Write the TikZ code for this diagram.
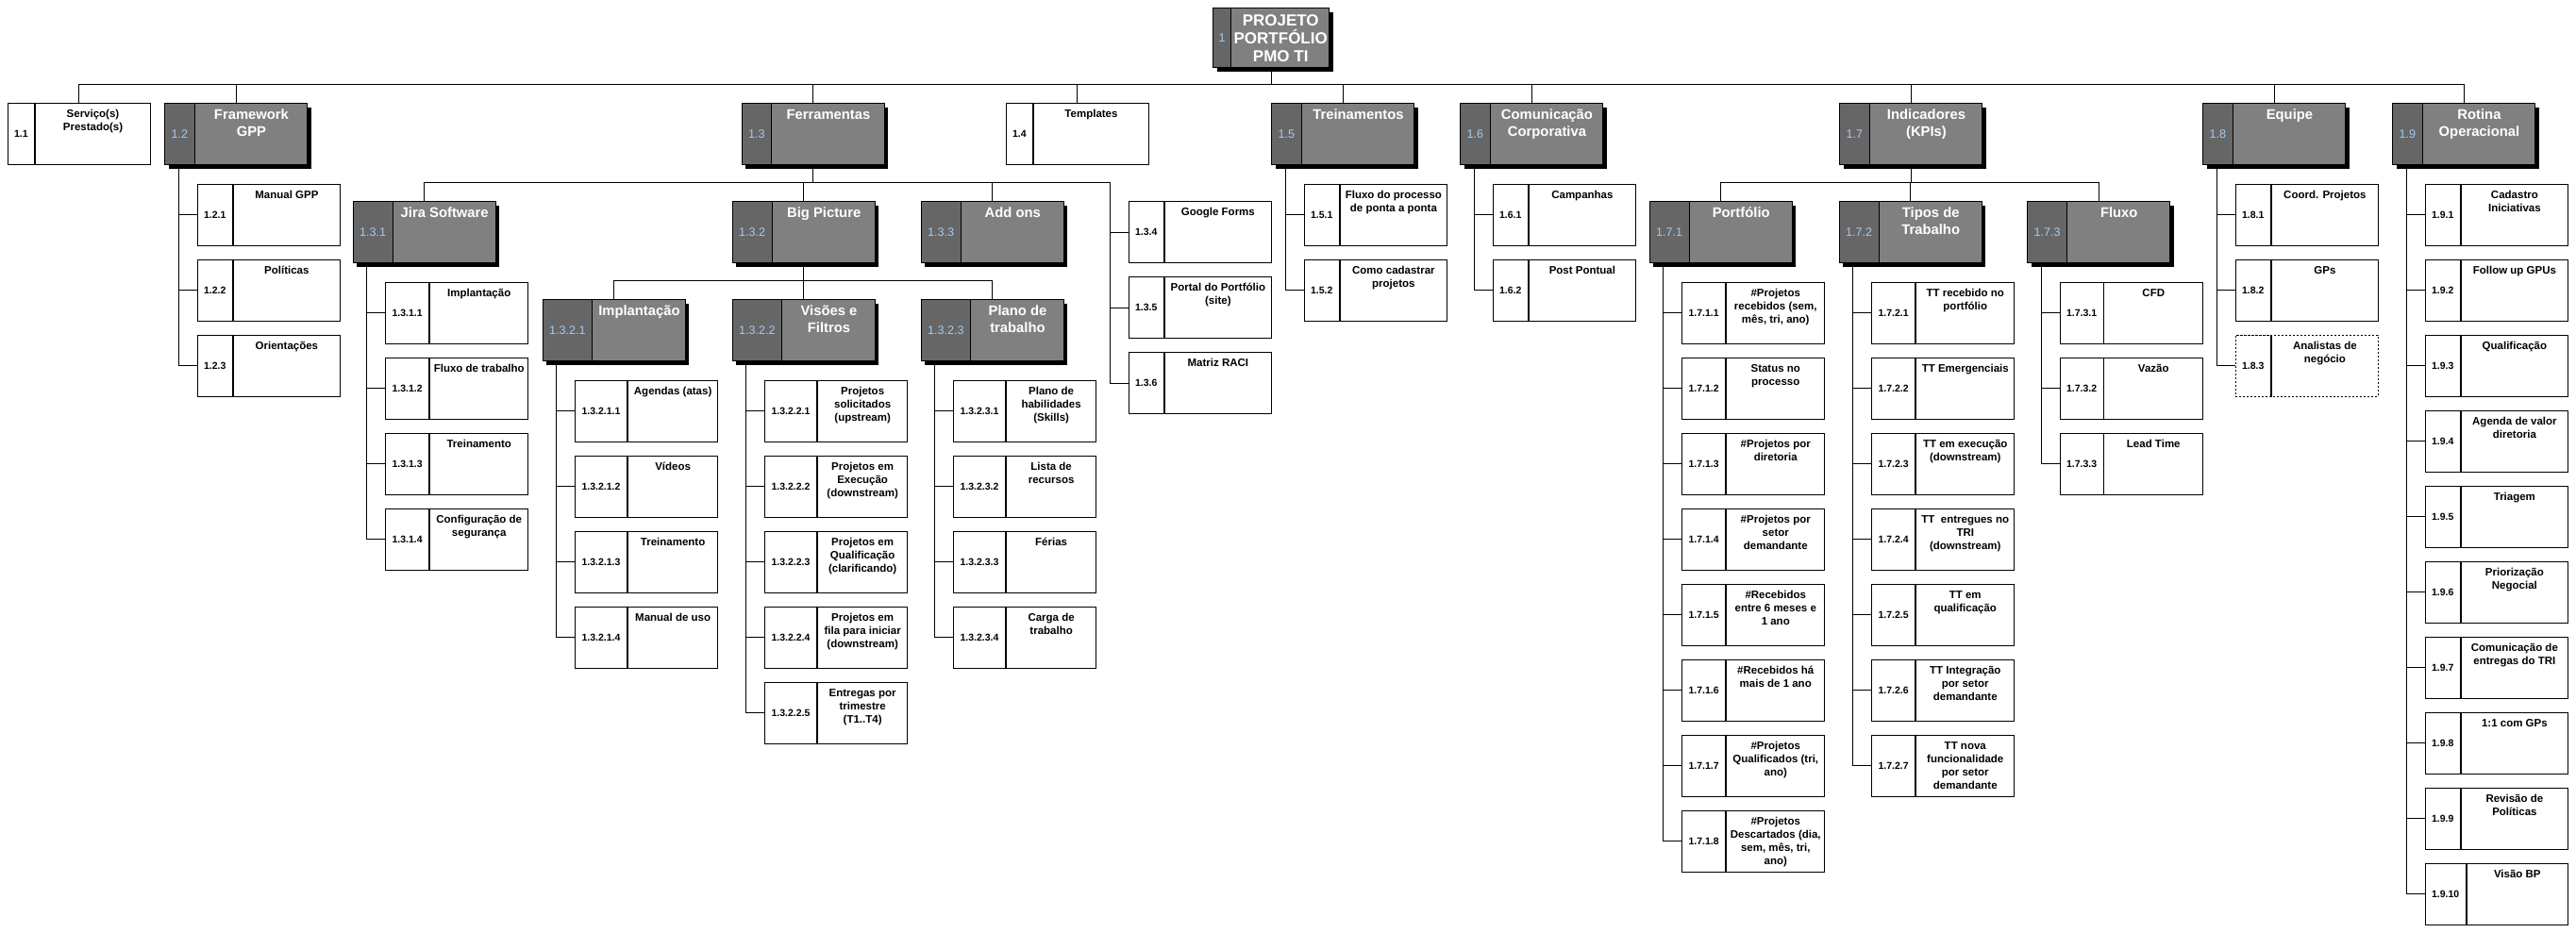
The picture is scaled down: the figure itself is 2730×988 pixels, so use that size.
\documentclass[tikz,border=0pt]{standalone}
\usepackage{fontspec}
\setmainfont{Liberation Sans}
\usetikzlibrary{calc,shadows}
\definecolor{boxgray}{HTML}{808080}
\definecolor{numgray}{HTML}{666666}
\definecolor{numblue}{HTML}{A6CAF0}
\tikzset{
	wbs/.style={draw, line width=1.2pt, minimum width=151pt, minimum height=65pt, inner sep=0pt, anchor=north west},
	darkwbs/.style={wbs, fill=boxgray, drop shadow={shadow xshift=4pt, shadow yshift=-4pt, opacity=1, fill=black}},
	leafnum/.style={draw, line width=1.2pt, minimum height=65pt, inner xsep=7pt, inner ysep=0pt, anchor=north west, font=\fontsize{10.5}{12}\bfseries},
	darknum/.style={leafnum, fill=numgray, text=numblue, font=\fontsize{12.6}{14}\selectfont},
	leaftext/.style={align=center, inner sep=0pt, anchor=north, font=\fontsize{11.5}{14}\bfseries},
	darktext/.style={leaftext, text=white, font=\fontsize{14.8}{17.7}\bfseries},
	link/.style={line width=1pt},
}
% dark box: name, position, number, title
\newcommand{\wbsdark}[4]{
	\node[darkwbs] (#1) at (#2) {};
	\node[darknum] (#1-n) at (#1.north west) {#3};
	\node[darktext] at ($(#1-n.north east)!.5!(#1.north east)+(0,3.8)$) {\rule{0pt}{13.5pt}#4};
}
% white box: style, name, position, number, label
\newcommand{\wbsleaf}[5][]{
	\node[wbs,#1] (#2) at (#3) {};
	\node[leafnum,#1] (#2-n) at (#2.north west) {#4};
	\draw[line width=1.2pt] (#2-n.north east) -- (#2-n.south east);
	\node[leaftext] at ($(#2-n.north east)!.5!(#2.north east)+(0,4.7)$) {\rule{0pt}{10.5pt}#5};
}
% leaf k under a parent: style, name, parent, k, number, label
\newcommand{\wbschild}[6][]{
	\wbsleaf[#1]{#2}{[shift={(34.5,{19.5+80*#4})}]#3.south west}{#5}{#6}
	\draw[link] ([xshift=15pt]#3.south west) |- (#2.west);
}

\begin{document}
\begin{tikzpicture}[x=1pt,y=-1pt]
			%%%%% START %%%%%
			\fill[white] (0,0) rectangle (2730,988);
			\useasboundingbox (0,0) rectangle (2730,988);
			
			\node[darkwbs, minimum width=123pt, minimum height=63pt] (root) at (1285,8) {};
			\node[darknum, minimum height=63pt, inner xsep=6pt] (root-n) at (root.north west) {1};
			\node[darktext, font=\fontsize{17}{19}\bfseries] at ($(root-n.north east)!.5!(root.north east)+(0,3.3)$) {\rule{0pt}{15.5pt}PROJETO\\PORTFÓLIO\\PMO TI};
			
			%% level 1
			\wbsleaf{n11}{7.5,109}{1.1}{Serviço(s)\\Prestado(s)}
			\wbsdark{n12}{174,109}{1.2}{Framework\\GPP}
			\wbsdark{n13}{785.5,109}{1.3}{Ferramentas}
			\wbsleaf{n14}{1065.5,109}{1.4}{Templates}
			\wbsdark{n15}{1347,109}{1.5}{Treinamentos}
			\wbsdark{n16}{1547,109}{1.6}{Comunicação\\Corporativa}
			\wbsdark{n17}{1949,109}{1.7}{Indicadores\\(KPIs)}
			\wbsdark{n18}{2334,109}{1.8}{Equipe}
			\wbsdark{n19}{2535,109}{1.9}{Rotina\\Operacional}
			\foreach \c in {n11,n12,n13,n14,n15,n16,n17,n18,n19}
				\draw[link] (root.south) |- ([shift={(0,-19.5)}]\c.north) -- (\c.north);
			
			%% 1.2
			\wbschild{n121}{n12}{0}{1.2.1}{Manual GPP}
			\wbschild{n122}{n12}{1}{1.2.2}{Políticas}
			\wbschild{n123}{n12}{2}{1.2.3}{Orientações}
			
			%% 1.3
			\wbsdark{n131}{373.5,213}{1.3.1}{Jira Software}
			\wbsdark{n132}{775.5,213}{1.3.2}{Big Picture}
			\wbsdark{n133}{975.5,213}{1.3.3}{Add ons}
			\foreach \c in {n131,n132,n133}
				\draw[link] (n13.south) |- ([shift={(0,-19.5)}]\c.north) -- (\c.north);
			\wbsleaf{n134}{1195.5,213}{1.3.4}{Google Forms}
			\wbsleaf{n135}{1195.5,293}{1.3.5}{Portal do Portfólio\\(site)}
			\wbsleaf{n136}{1195.5,373}{1.3.6}{Matriz RACI}
			\foreach \c in {n134,n135,n136}
				\draw[link] (n13.south) |- ([shift={(-19,-19.5)}]n134.north west) |- (\c.west);
			
			\wbschild{n1311}{n131}{0}{1.3.1.1}{Implantação}
			\wbschild{n1312}{n131}{1}{1.3.1.2}{Fluxo de trabalho}
			\wbschild{n1313}{n131}{2}{1.3.1.3}{Treinamento}
			\wbschild{n1314}{n131}{3}{1.3.1.4}{Configuração de\\segurança}
			
			\wbsdark{n1321}{574.5,317}{1.3.2.1}{Implantação}
			\wbsdark{n1322}{775.5,317}{1.3.2.2}{Visões e\\Filtros}
			\wbsdark{n1323}{975.5,317}{1.3.2.3}{Plano de\\trabalho}
			\foreach \c in {n1321,n1322,n1323}
				\draw[link] (n132.south) |- ([shift={(0,-19.5)}]\c.north) -- (\c.north);
			
			\wbschild{n13211}{n1321}{0}{1.3.2.1.1}{Agendas (atas)}
			\wbschild{n13212}{n1321}{1}{1.3.2.1.2}{Vídeos}
			\wbschild{n13213}{n1321}{2}{1.3.2.1.3}{Treinamento}
			\wbschild{n13214}{n1321}{3}{1.3.2.1.4}{Manual de uso}
			
			\wbschild{n13221}{n1322}{0}{1.3.2.2.1}{Projetos\\solicitados\\(upstream)}
			\wbschild{n13222}{n1322}{1}{1.3.2.2.2}{Projetos em\\Execução\\(downstream)}
			\wbschild{n13223}{n1322}{2}{1.3.2.2.3}{Projetos em\\Qualificação\\(clarificando)}
			\wbschild{n13224}{n1322}{3}{1.3.2.2.4}{Projetos em\\fila para iniciar\\(downstream)}
			\wbschild{n13225}{n1322}{4}{1.3.2.2.5}{Entregas por\\trimestre\\(T1..T4)}
			
			\wbschild{n13231}{n1323}{0}{1.3.2.3.1}{Plano de\\habilidades\\(Skills)}
			\wbschild{n13232}{n1323}{1}{1.3.2.3.2}{Lista de\\recursos}
			\wbschild{n13233}{n1323}{2}{1.3.2.3.3}{Férias}
			\wbschild{n13234}{n1323}{3}{1.3.2.3.4}{Carga de\\trabalho}
			
			%% 1.5 / 1.6
			\wbschild{n151}{n15}{0}{1.5.1}{Fluxo do processo\\de ponta a ponta}
			\wbschild{n152}{n15}{1}{1.5.2}{Como cadastrar\\projetos}
			\wbschild{n161}{n16}{0}{1.6.1}{Campanhas}
			\wbschild{n162}{n16}{1}{1.6.2}{Post Pontual}
			
			%% 1.7
			\wbsdark{n171}{1747.5,213}{1.7.1}{Portfólio}
			\wbsdark{n172}{1948.5,213}{1.7.2}{Tipos de\\Trabalho}
			\wbsdark{n173}{2148,213}{1.7.3}{Fluxo}
			\foreach \c in {n171,n172,n173}
				\draw[link] (n17.south) |- ([shift={(0,-19.5)}]\c.north) -- (\c.north);
			
			\wbschild{n1711}{n171}{0}{1.7.1.1}{\#Projetos\\recebidos (sem,\\mês, tri, ano)}
			\wbschild{n1712}{n171}{1}{1.7.1.2}{Status no\\processo}
			\wbschild{n1713}{n171}{2}{1.7.1.3}{\#Projetos por\\diretoria}
			\wbschild{n1714}{n171}{3}{1.7.1.4}{\#Projetos por\\setor\\demandante}
			\wbschild{n1715}{n171}{4}{1.7.1.5}{\#Recebidos\\entre 6 meses e\\1 ano}
			\wbschild{n1716}{n171}{5}{1.7.1.6}{\#Recebidos há\\mais de 1 ano}
			\wbschild{n1717}{n171}{6}{1.7.1.7}{\#Projetos\\Qualificados (tri,\\ano)}
			\wbschild{n1718}{n171}{7}{1.7.1.8}{\#Projetos\\Descartados (dia,\\sem, mês, tri,\\ano)}
			
			\wbschild{n1721}{n172}{0}{1.7.2.1}{TT recebido no\\portfólio}
			\wbschild{n1722}{n172}{1}{1.7.2.2}{TT Emergenciais}
			\wbschild{n1723}{n172}{2}{1.7.2.3}{TT em execução\\(downstream)}
			\wbschild{n1724}{n172}{3}{1.7.2.4}{TT\ \ entregues no\\TRI\\(downstream)}
			\wbschild{n1725}{n172}{4}{1.7.2.5}{TT em\\qualificação}
			\wbschild{n1726}{n172}{5}{1.7.2.6}{TT Integração\\por setor\\demandante}
			\wbschild{n1727}{n172}{6}{1.7.2.7}{TT nova\\funcionalidade\\por setor\\demandante}
			
			\wbschild{n1731}{n173}{0}{1.7.3.1}{CFD}
			\wbschild{n1732}{n173}{1}{1.7.3.2}{Vazão}
			\wbschild{n1733}{n173}{2}{1.7.3.3}{Lead Time}
			
			%% 1.8
			\wbschild{n181}{n18}{0}{1.8.1}{Coord. Projetos}
			\wbschild{n182}{n18}{1}{1.8.2}{GPs}
			\wbschild[dash pattern=on 2pt off 2pt]{n183}{n18}{2}{1.8.3}{Analistas de\\negócio}
			
			%% 1.9
			\wbschild{n191}{n19}{0}{1.9.1}{Cadastro\\Iniciativas}
			\wbschild{n192}{n19}{1}{1.9.2}{Follow up GPUs}
			\wbschild{n193}{n19}{2}{1.9.3}{Qualificação}
			\wbschild{n194}{n19}{3}{1.9.4}{Agenda de valor\\diretoria}
			\wbschild{n195}{n19}{4}{1.9.5}{Triagem}
			\wbschild{n196}{n19}{5}{1.9.6}{Priorização\\Negocial}
			\wbschild{n197}{n19}{6}{1.9.7}{Comunicação de\\entregas do TRI}
			\wbschild{n198}{n19}{7}{1.9.8}{1:1 com GPs}
			\wbschild{n199}{n19}{8}{1.9.9}{Revisão de\\Políticas}
			\wbschild{n1910}{n19}{9}{1.9.10}{Visão BP}
			
			%%%%% END %%%%%
\end{tikzpicture}
\end{document}
